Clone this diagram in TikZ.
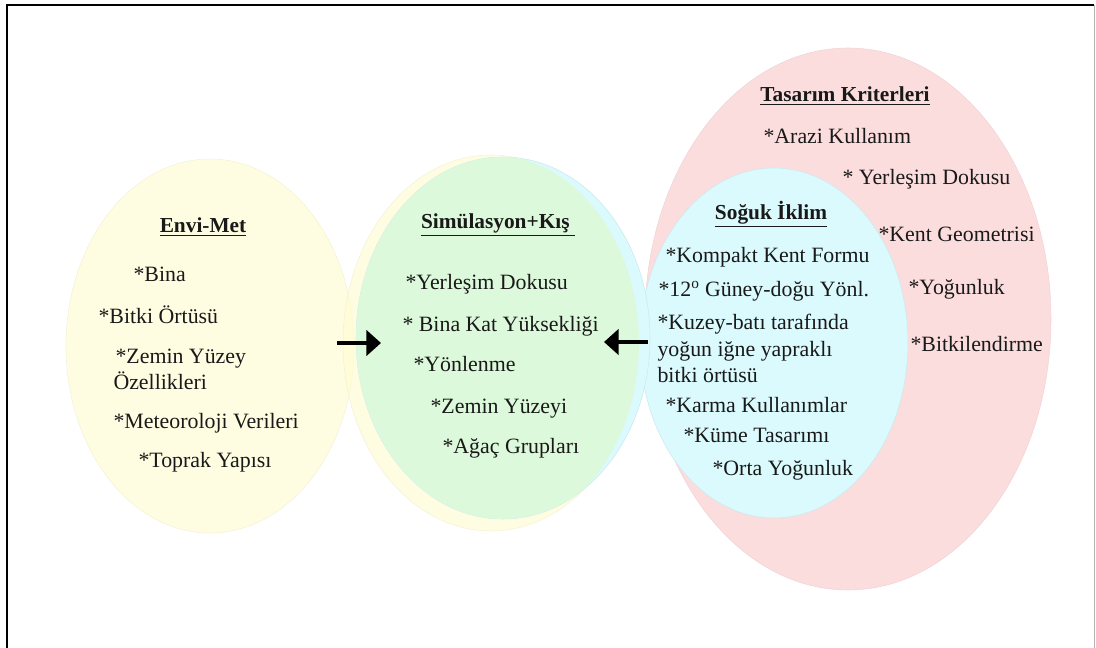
\documentclass[tikz,border=0pt]{standalone}
\usepackage{fontspec}
\setmainfont{Liberation Serif}
\usetikzlibrary{arrows.meta}

\tikzset{every picture/.style={line width=0.75pt}}
\tikzset{
	item/.style={anchor=base west, inner sep=0pt, font=\fontsize{16.4}{19}\selectfont, text={rgb, 255:red, 25; green, 25; blue, 25 }},
	heading/.style={anchor=base, inner sep=0pt, font=\fontsize{16}{19}\selectfont\bfseries, text={rgb, 255:red, 25; green, 25; blue, 25 }},
	yellowzone/.style={fill={rgb, 255:red, 255; green, 252; blue, 212 }, fill opacity=0.7, draw={rgb, 255:red, 240; green, 236; blue, 205 }, draw opacity=0.7, line width=0.4},
	cyanzone/.style={fill={rgb, 255:red, 219; green, 250; blue, 253 }, draw={rgb, 255:red, 205; green, 232; blue, 236 }, line width=0.4},
	pinkzone/.style={fill={rgb, 255:red, 252; green, 221; blue, 222 }, draw={rgb, 255:red, 240; green, 212; blue, 214 }, line width=0.4},
	flow/.style={line width=3pt, -{Triangle[length=11pt,width=19pt]}},
}

\begin{document}
\begin{tikzpicture}[x=0.75pt,y=0.75pt,yscale=-1,xscale=1]
	\useasboundingbox (0,0) rectangle (1096,648);

	%Frame
	\draw [line width=1.5]  (7,648) -- (7,5) -- (1094,5) ;
	\draw [color={rgb, 255:red, 180; green, 180; blue, 180 }]  (1094,5) -- (1094,648) ;

	%Ellipses
	\draw [pinkzone]  (848,319) ellipse [x radius=203, y radius=271] ;
	\draw [cyanzone]  (774,343) ellipse [x radius=134, y radius=175] ;
	\draw [yellowzone]  (210,346) ellipse [x radius=144, y radius=187] ;
	\draw [yellowzone]  (491,343) ellipse [x radius=148, y radius=188] ;
	\draw [cyanzone]  (503,338) ellipse [x radius=147, y radius=181] ;
	%overlap of the two middle ellipses
	\begin{scope}
		\clip (491,343) ellipse [x radius=148, y radius=188] ;
		\fill [fill={rgb, 255:red, 221; green, 249; blue, 219 }]  (503,338) ellipse [x radius=147, y radius=181] ;
	\end{scope}

	%Straight Lines
	\coordinate (enviout) at (337,343) ;
	\coordinate (simleft) at (381,343) ;
	\coordinate (sogukout) at (648,342) ;
	\coordinate (simright) at (604,342) ;
	\draw [flow]  (enviout) -- (simleft) ;
	\draw [flow]  (sogukout) -- (simright) ;

	% Text Node
	\node [heading] (envititle) at (203,233) {\underline{Envi-Met}};
	\node [item] (bina) at (133,282) {*Bina};
	\node [item] (bitki) at (98,324) {*Bitki Örtüsü};
	\node [item] (zemin) at (115,364) {*Zemin Yüzey};
	\node [item] (zeminb) at (113,390) {Özellikleri};
	\node [item] (meteo) at (113,429) {*Meteoroloji Verileri};
	\node [item] (toprak) at (138,467) {*Toprak Yapısı};

	% Text Node
	\node [heading] (simtitle) at (498,229) {\underline{Simülasyon+Kış\ }};
	\node [item] (simdoku) at (405,290) {*Yerleşim Dokusu};
	\node [item] (simkat) at (402,332) {* Bina Kat Yüksekliği};
	\node [item] (simyon) at (413,372) {*Yönlenme};
	\node [item] (simzemin) at (430,414) {*Zemin Yüzeyi};
	\node [item] (simagac) at (442,454) {*Ağaç Grupları};

	% Text Node
	\node [heading] (tastitle) at (845,102) {\underline{Tasarım Kriterleri}};
	\node [item] (arazi) at (763,144) {*Arazi Kullanım};
	\node [item] (tasdoku) at (842,185) {* Yerleşim Dokusu};
	\node [item] (geo) at (878,242) {*Kent Geometrisi};
	\node [item] (yogun) at (908,295) {*Yoğunluk};
	\node [item] (bitkilen) at (910,352) {*Bitkilendirme};

	% Text Node
	\node [heading] (soguktitle) at (771,220) {\underline{Soğuk İklim}};
	\node [item] (kompakt) at (665,263) {*Kompakt Kent Formu};
	\node [item] (guney) at (658,297) {*12\textsuperscript{o} Güney-doğu Yönl.};
	\node [item] (kuzey) at (657,330) {*Kuzey-batı tarafında};
	\node [item] (kuzeyb) at (657,357) {yoğun iğne yapraklı};
	\node [item] (kuzeyc) at (657,383) {bitki örtüsü};
	\node [item] (karma) at (665,413) {*Karma Kullanımlar};
	\node [item] (kume) at (683,443) {*Küme Tasarımı};
	\node [item] (orta) at (712,475) {*Orta Yoğunluk};

\end{tikzpicture}
\end{document}
